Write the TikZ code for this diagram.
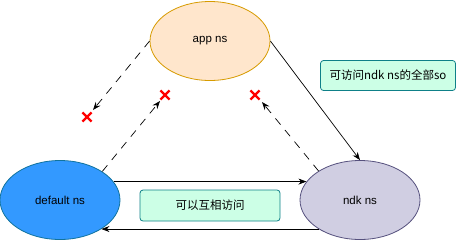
\documentclass[tikz,border=0pt]{standalone}
\usepackage{fontspec}
\setmainfont{Liberation Sans}
\newfontfamily\cjk{Noto Sans CJK SC}
\usetikzlibrary{shapes.geometric, shapes.misc, arrows.meta}

\definecolor{appfill}{HTML}{FFE6CC}
\definecolor{appline}{HTML}{D79B00}
\definecolor{deffill}{HTML}{3399FF}
\definecolor{defline}{HTML}{10739E}
\definecolor{ndkfill}{HTML}{D0CEE2}
\definecolor{ndkline}{HTML}{56517E}
\definecolor{notefill}{HTML}{CCFFE6}
\definecolor{noteline}{HTML}{0E8088}

\begin{document}
\begin{tikzpicture}[x=1pt, y=-1pt, font=\fontsize{11.5}{13}\selectfont,
    ns/.style={draw, ellipse, line width=0.8pt, inner sep=0pt, minimum width=120pt, minimum height=79pt},
    note/.style={draw=noteline, fill=notefill, rounded corners=3pt, line width=0.8pt, inner sep=0pt},
    flow/.style={-{Stealth[length=8pt, width=6pt]}, line width=0.7pt},
    denied/.style={flow, dash pattern=on 8pt off 7pt},
    nogo/.style={draw=red, cross out, line width=2.2pt, minimum size=7pt, inner sep=0pt}]
    \useasboundingbox (0,0) rectangle (462,242);

    % namespaces
    \node[ns, draw=appline, fill=appfill] (app) at (210,41) {app ns};
    \node[ns, draw=defline, fill=deffill] (def) at (60,200) {default ns};
    \node[ns, draw=ndkline, fill=ndkfill] (ndk) at (360,200) {ndk ns};

    % notes
    \node[note, minimum width=135pt, minimum height=30pt] (n1) at (388,75.5) {\cjk 可访问ndk ns的全部so};
    \node[note, minimum width=140pt, minimum height=31pt] (n2) at (210,205.5) {\cjk 可以互相访问};

    % allowed links
    \draw[flow] (app.east) -- (ndk.north);
    \draw[flow] (def.19) -- (ndk.161);
    \draw[flow] (ndk.-145) -- (def.-35);

    % blocked links
    \coordinate (t1) at (93,110);
    \coordinate (t2) at (160,101);
    \coordinate (t3) at (262,102);
    \draw[denied] (app.west) -- (t1);
    \draw[denied] (def.34) -- (t2);
    \draw[denied] (ndk.145) -- (t3);
    \foreach \n/\p in {1/{(87,117)}, 2/{(165,95)}, 3/{(255,95)}} {
        \node[nogo] (x\n) at \p {};
    }
\end{tikzpicture}
\end{document}
